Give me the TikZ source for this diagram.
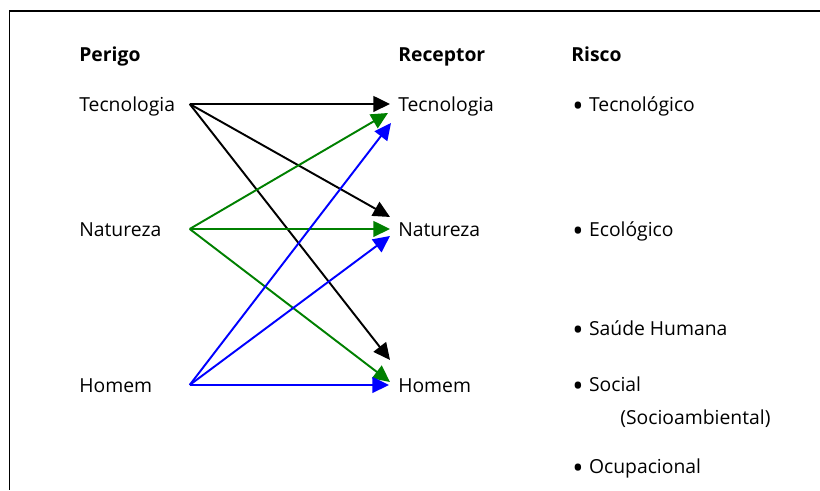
\documentclass[tikz,border=0pt]{standalone}
\usepackage{fontspec}
\setmainfont{Open Sans}
\usepackage{xcolor}
\usetikzlibrary{arrows.meta,calc}

\definecolor{risgreen}{RGB}{0,128,0}
\definecolor{risblue}{RGB}{0,0,255}

% bigger, lowered bullet of the Risco list
\newcommand\riskbul{\makebox[9.5pt][l]{\raisebox{-3.2pt}{\fontsize{17}{17}\selectfont\textbullet}}}

\begin{document}
\begin{tikzpicture}[
    x = 0.02cm, y = -0.02cm,
    >={Triangle[length=9.5pt,width=9pt]},
    every node/.style = {font=\fontsize{11}{13}\selectfont, inner sep=0pt},
    % Named styles
    head/.style  = {anchor=base west, font=\fontsize{11}{13}\selectfont\bfseries},
    item/.style  = {anchor=base west},
    src/.style   = {anchor=base west, text height=9pt, text depth=1pt,
                    text width=2.2cm, align=left},
    dst/.style   = {anchor=base west, text height=9pt, text depth=1pt,
                    inner xsep=4.5pt},
    frame/.style = {line width=1.1pt, black},
    link/.style  = {->, line width=1.1pt},
]

% ── Dimensions (pixels of the 820x490 page) ──────────────────────────────────
\def\xP{79}    % column Perigo
\def\xR{398}   % column Receptor
\def\xK{572}   % column Risco
\def\yH{61}    % baseline headers
\def\yT{111}   % baseline Tecnologia
\def\yN{236}   % baseline Natureza
\def\yM{392}   % baseline Homem

\useasboundingbox (0,0) rectangle (820,490);

% ── Frame (open at right and bottom) ─────────────────────────────────────────
\draw[frame] (820,11) -- (9.5,11) -- (9.5,490);

% ── Headers ──────────────────────────────────────────────────────────────────
\node[head] (hPer) at (\xP,\yH) {Perigo};
\node[head] (hRec) at (\xR,\yH) {Receptor};
\node[head] (hRis) at (\xK-1,\yH) {Risco};

% ── Perigo ───────────────────────────────────────────────────────────────────
\node[src] (pTec) at (\xP,\yT) {Tecnologia};
\node[src] (pNat) at (\xP,\yN) {Natureza};
\node[src] (pHom) at (\xP,\yM) {Homem};

% ── Receptor ─────────────────────────────────────────────────────────────────
\node[dst] (rTec) at (\xR-8,\yT) {Tecnologia};
\node[dst] (rNat) at (\xR-8,\yN) {Natureza};
\node[dst] (rHom) at (\xR-8,\yM) {Homem};

% ── Risco ────────────────────────────────────────────────────────────────────
\node[item] (kTec) at (\xK,\yT)  {\riskbul Tecnológico};
\node[item] (kEco) at (\xK,\yN)  {\riskbul Ecológico};
\node[item] (kSau) at (\xK,335)  {\riskbul Saúde Humana};
\node[item] (kSoc) at (\xK,391)  {\riskbul Social};
\node[item] (kSam) at (620,424)  {(Socioambiental)};
\node[item] (kOcu) at (\xK,473)  {\riskbul Ocupacional};

% ── Links ────────────────────────────────────────────────────────────────────
% from Tecnologia
\draw[link, black] (pTec.east) -- (rTec.west);
\draw[link, black] (pTec.east) -- ($(rNat.west)+(0,-12)$);
\draw[link, black] (pTec.east) -- ($(rHom.west)+(0,-25)$);
% from Natureza
\draw[link, risgreen] (pNat.east) -- ($(rTec.west)+(-2,9)$);
\draw[link, risgreen] (pNat.east) -- (rNat.west);
\draw[link, risgreen] (pNat.east) -- ($(rHom.west)+(0,-3)$);
% from Homem
\draw[link, risblue] (pHom.east) -- ($(rTec.west)+(1,19)$);
\draw[link, risblue] (pHom.east) -- ($(rNat.west)+(0,7)$);
\draw[link, risblue] (pHom.east) -- ($(rHom.west)+(-1,0)$);

\end{tikzpicture}
\end{document}
